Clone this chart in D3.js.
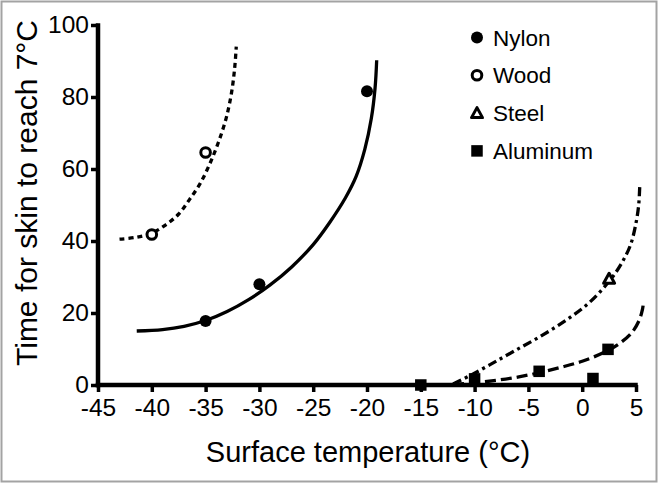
<!DOCTYPE html>
<html>
<head>
<meta charset="utf-8">
<script src="https://cdn.jsdelivr.net/npm/d3@7"></script>
<style>
  body { margin: 0; background: #fff; }
  text { font-family: "Liberation Sans", Arial, sans-serif; fill: #000; }
</style>
</head>
<body>
<script>
// measured points
var nylonPts = [[-35, 17.8], [-30, 28], [-20, 81.6]];
var woodPts = [[-40, 41.8], [-35, 64.6]];
var steelPts = [[2.5, 29.5]];
var aluminumPts = [[-15, 0], [-10, 1.7], [-4, 3.8], [1, 1.8], [2.4, 9.9]];

// fitted curves
var nylonCurve = [[-41.4, 15], [-39, 15.4], [-37, 16.3], [-35, 17.9], [-33, 20.4], [-31, 23.7],
  [-29, 27.8], [-27, 32.8], [-25, 39], [-23.5, 45], [-22, 52], [-21, 58], [-20.2, 65.5],
  [-19.6, 74], [-19.25, 82.5], [-19.1, 90.2]];
var woodCurve = [[-43, 40.5], [-41.5, 41], [-40, 42.2], [-38.7, 44.5], [-37.5, 47.5], [-36.5, 51.5],
  [-35.5, 56], [-34.6, 61.5], [-33.8, 67.5], [-33.1, 74], [-32.6, 81], [-32.3, 88], [-32.15, 94]];
var steelCurve = [[-12, 0.3], [-10.5, 2.5], [-8.6, 5.6], [-6.4, 9.3], [-4, 13.3], [-1.5, 18],
  [0.7, 23], [2.5, 28.8], [3.6, 33.5], [4.5, 39], [5, 45], [5.25, 50], [5.35, 55.4]];
var aluminumCurve = [[-12, 0.2], [-10, 0.6], [-8, 1.3], [-6, 2.2], [-4, 3.4], [-2, 4.9],
  [0, 6.6], [2, 9], [3.5, 11.6], [4.6, 14.5], [5.3, 18], [5.6, 21], [5.7, 23]];

var xTicks = [-45, -40, -35, -30, -25, -20, -15, -10, -5, 0, 5];
var yTicks = [0, 20, 40, 60, 80, 100];
var legendNames = ["Nylon", "Wood", "Steel", "Aluminum"];

var width = 660, height = 485;

var x = d3.scaleLinear().domain([-45, 5]).range([98, 636]);
var y = d3.scaleLinear().domain([0, 100]).range([385, 25]);

var svg = d3.select("body").append("svg")
  .attr("width", width)
  .attr("height", height);

// grey frame round the figure
svg.append("rect")
  .attr("x", 1.5).attr("y", 1.5)
  .attr("width", 655).attr("height", 480)
  .attr("fill", "none")
  .attr("stroke", "#a3a3a3")
  .attr("stroke-width", 2);

// axes
var xAxis = d3.axisBottom(x).tickValues(xTicks).tickSize(7).tickPadding(7);
var yAxis = d3.axisLeft(y).tickValues(yTicks).tickSize(7).tickPadding(2);

var gx = svg.append("g").attr("transform", "translate(0,385)").call(xAxis);
var gy = svg.append("g").attr("transform", "translate(98,0)").call(yAxis);

[gx, gy].forEach(function(g) {
  g.select(".domain").remove();
  g.selectAll(".tick line").attr("stroke", "#000").attr("stroke-width", 3.5);
  g.selectAll(".tick text").style("font-size", "24.5px")
    .style("font-family", "'Liberation Sans', Arial, sans-serif");
});
// plain hyphen for negatives, as in the original
gx.selectAll(".tick text").text(function(d) { return d < 0 ? "-" + Math.abs(d) : d; });

svg.append("line")
  .attr("x1", x(-45) - 2.25).attr("x2", x(5) + 1.75)
  .attr("y1", y(0)).attr("y2", y(0))
  .attr("stroke", "#000").attr("stroke-width", 4.5);
svg.append("line")
  .attr("x1", x(-45)).attr("x2", x(-45))
  .attr("y1", y(100) - 1.75).attr("y2", y(0) + 2.25)
  .attr("stroke", "#000").attr("stroke-width", 4.5);

// axis titles
svg.append("text")
  .attr("x", 368).attr("y", 462)
  .attr("text-anchor", "middle")
  .style("font-size", "29px")
  .text("Surface temperature (°C)");

svg.append("text")
  .attr("transform", "translate(37,193) rotate(-90)")
  .attr("text-anchor", "middle")
  .style("font-size", "30px")
  .text("Time for skin to reach 7°C");

// curves
var line = d3.line()
  .x(function(d) { return x(d[0]); })
  .y(function(d) { return y(d[1]); })
  .curve(d3.curveCatmullRom.alpha(0.5));

var curves = [
  { data: nylonCurve, dash: null },
  { data: woodCurve, dash: "5,4" },
  { data: steelCurve, dash: "9,4,3,4" },
  { data: aluminumCurve, dash: "11,5" }
];

svg.selectAll(".fit")
  .data(curves)
  .enter()
    .append("path")
    .attr("class", "fit")
    .attr("d", function(d) { return line(d.data); })
    .attr("fill", "none")
    .attr("stroke", "#000")
    .attr("stroke-width", 3.3)
    .attr("stroke-dasharray", function(d) { return d.dash; });

// markers
function drawMarker(g, kind, cx, cy) {
  if (kind === "Nylon") {
    g.append("circle").attr("cx", cx).attr("cy", cy).attr("r", 6).attr("fill", "#000");
  } else if (kind === "Wood") {
    g.append("circle").attr("cx", cx).attr("cy", cy).attr("r", 4.8)
      .attr("fill", "#fff").attr("stroke", "#000").attr("stroke-width", 3);
  } else if (kind === "Steel") {
    g.append("path")
      .attr("d", "M" + cx + "," + (cy - 5.5) + "L" + (cx + 5.5) + "," + (cy + 4.5) + "L" + (cx - 5.5) + "," + (cy + 4.5) + "Z")
      .attr("fill", "#fff").attr("stroke", "#000").attr("stroke-width", 3)
      .attr("stroke-linejoin", "round");
  } else {
    g.append("rect").attr("x", cx - 5.75).attr("y", cy - 5.75)
      .attr("width", 11.5).attr("height", 11.5).attr("fill", "#000");
  }
}

var pointSets = { Nylon: nylonPts, Wood: woodPts, Steel: steelPts, Aluminum: aluminumPts };
var marks = svg.append("g");
legendNames.forEach(function(name) {
  pointSets[name].forEach(function(p) {
    drawMarker(marks, name, x(p[0]), y(p[1]));
  });
});

// legend
var legend = svg.append("g");
legendNames.forEach(function(name, i) {
  var ly = 37.5 + i * 37.8;
  drawMarker(legend, name, 477, ly);
  legend.append("text")
    .attr("x", 493).attr("y", ly + 8)
    .style("font-size", "22.5px")
    .text(name);
});
</script>
</body>
</html>
